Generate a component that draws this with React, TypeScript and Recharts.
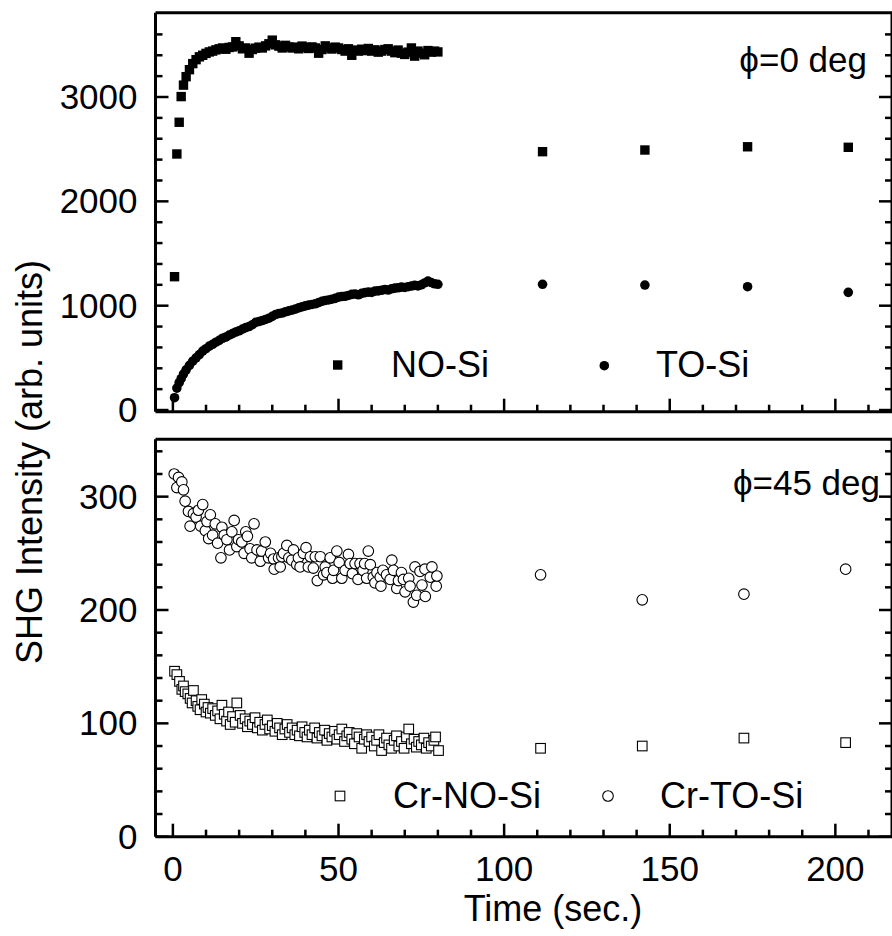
import React from 'react';
import { ScatterChart, Scatter, XAxis, YAxis, Customized } from 'recharts';

const FONT = '"Liberation Sans", Arial, Helvetica, sans-serif';

// ---- top panel (phi = 0 deg) ----
const tTop = [
  0.5, 1.2, 1.9, 2.5, 3.2, 4, 5, 6, 7, 8, 9, 10, 11, 12, 13, 14, 15, 16, 17, 18, 19, 20,
  21, 22, 23, 24, 25, 26, 27, 28, 29, 30, 31, 32, 33, 34, 35, 36, 37, 38, 39, 40, 41, 42,
  43, 44, 45, 46, 47, 48, 49, 50, 51, 52, 53, 54, 55, 56, 57, 58, 59, 60, 61, 62, 63, 64,
  65, 66, 67, 68, 69, 70, 71, 72, 73, 74, 75, 76, 77, 78, 79, 80,
];
const noSi = [
  1278, 2454, 2758, 3004, 3114, 3195, 3262, 3320, 3358, 3385, 3400, 3418, 3432, 3440,
  3452, 3462, 3470, 3458, 3475, 3480, 3530, 3490, 3462, 3470, 3420, 3455, 3468, 3478,
  3470, 3490, 3510, 3545, 3500, 3488, 3470, 3495, 3480, 3470, 3478, 3462, 3488, 3475,
  3465, 3480, 3470, 3420, 3455, 3490, 3470, 3460, 3478, 3470, 3455, 3440, 3462, 3400,
  3450, 3440, 3458, 3445, 3465, 3440, 3452, 3430, 3440, 3455, 3462, 3440, 3425, 3450,
  3420, 3408, 3430, 3470, 3392, 3440, 3420, 3405, 3445, 3430, 3440, 3432,
];
const toSi = [
  118, 210, 262, 300, 345, 385, 428, 468, 500, 532, 565, 588, 612, 630, 650, 668, 688,
  700, 718, 732, 748, 760, 775, 790, 800, 818, 840, 848, 858, 868, 880, 898, 915, 925,
  930, 942, 950, 958, 968, 980, 990, 998, 1005, 1012, 1018, 1030, 1042, 1050, 1055, 1062,
  1070, 1082, 1088, 1090, 1098, 1108, 1112, 1105, 1118, 1125, 1130, 1128, 1140, 1142,
  1148, 1155, 1150, 1162, 1168, 1172, 1178, 1175, 1182, 1188, 1195, 1190, 1200, 1218,
  1235, 1222, 1210, 1205,
];
const tLateTop = [111.6, 142.5, 173.5, 203.9];
const noSiLate = [2476, 2492, 2523, 2518];
const toSiLate = [1205, 1198, 1182, 1128];

// ---- bottom panel (phi = 45 deg) ----
const tCrTo = [
  0.4, 1.2, 1.7, 2.7, 3.2, 3.7, 4.7, 5.2, 6.2, 7, 7.7, 8.4, 9, 9.8, 10.3, 10.8, 11.3, 12,
  12.8, 13.5, 14.5, 14.8, 15.5, 16.3, 17.1, 17.8, 18.5, 19.3, 19.8, 20.8, 21.5, 22, 22.5,
  23.3, 23.8, 24.5, 25.4, 26.4, 26.8, 27.9, 28.9, 29.5, 30.4, 30.6, 31.9, 32.4, 32.9, 33.4,
  34.4, 35, 35.9, 36.4, 37.4, 37.9, 38.4, 39.4, 40.2, 40.9, 41.5, 42.4, 43, 43.6, 44.5,
  45.5, 46, 46.5, 47.5, 48.2, 48.5, 49.5, 50.2, 51, 52, 53, 53.5, 54.2, 55, 55.9, 56.5,
  57.4, 57.9, 58.5, 59, 59.6, 60.5, 61, 61.6, 62.6, 62.8, 63.4, 64.5, 65.6, 66.1, 66.6,
  67.6, 68.1, 69, 69.6, 70.1, 71.2, 71.6, 72.6, 73.1, 73.6, 74.6, 75.2, 76.1, 76.2, 77.7,
  78.2, 79.5, 79.7,
];
const crToSi = [
  320, 308, 317, 313, 306, 296, 287, 274, 285, 282, 288, 274, 293, 270, 278, 263, 284, 266,
  276, 259, 246, 273, 266, 262, 253, 269, 279, 256, 262, 260, 250, 269, 265, 254, 246, 276,
  253, 243, 252, 260, 246, 250, 245, 236, 246, 238, 247, 250, 257, 246, 244, 253, 240, 246,
  238, 250, 255, 238, 247, 237, 247, 226, 247, 231, 238, 233, 246, 228, 235, 252, 242, 228,
  235, 249, 241, 232, 241, 227, 241, 235, 241, 228, 252, 240, 229, 224, 233, 229, 221, 235,
  231, 227, 244, 235, 219, 226, 233, 227, 216, 228, 221, 207, 238, 213, 234, 222, 236, 212,
  229, 238, 221, 230,
];
const tCrNo = [
  0.5, 1.2, 2, 2.7, 3.2, 3.7, 4.5, 5.2, 5.8, 6.2, 7, 7.5, 8.2, 8.7, 9.5, 10, 10.6, 11.3,
  12, 12.8, 13.5, 14.2, 14.8, 15.5, 16.2, 16.8, 17.3, 18, 18.8, 19.3, 20.3, 21, 21.8, 22.5,
  23.2, 24, 24.8, 25.5, 26.2, 27, 27.8, 28.5, 29.2, 30, 30.8, 31.5, 32.2, 33, 33.8, 34.5,
  35.2, 36, 36.8, 37.5, 38.2, 39, 39.8, 40.5, 41.2, 42, 42.8, 43.5, 44.2, 45, 45.8, 46.5,
  47.2, 48, 48.8, 49.5, 50.2, 51, 51.8, 52.5, 53.2, 54, 54.8, 55.5, 56.2, 57, 57.8, 58.5,
  59.2, 60, 60.8, 61.5, 62.2, 63, 63.8, 64.5, 65.2, 66, 66.8, 67.5, 68.2, 69, 69.8, 70.5,
  71.2, 72, 72.8, 73.5, 74.2, 75, 75.8, 76.5, 77.2, 78, 78.8, 79.3, 80.2,
];
const crNoSi = [
  146, 143, 137, 130, 133, 128, 126, 122, 118, 129, 120, 115, 112, 121, 117, 110, 114, 109,
  113, 107, 111, 104, 116, 108, 102, 110, 99, 106, 101, 118, 107, 100, 104, 97, 102, 99,
  105, 96, 101, 94, 99, 103, 95, 98, 93, 100, 96, 90, 95, 99, 92, 96, 90, 94, 89, 97, 92,
  88, 94, 90, 96, 87, 92, 89, 94, 85, 91, 88, 93, 86, 90, 95, 84, 89, 92, 86, 82, 91, 88,
  78, 86, 90, 84, 88, 80, 85, 90, 76, 83, 87, 81, 78, 85, 89, 80, 84, 78, 88, 95, 82, 86,
  79, 84, 81, 87, 78, 83, 80, 85, 88, 76,
];
const tLateBot = [111, 141.7, 172.4, 203.1];
const crToSiLate = [231, 209, 214, 236];
const crNoSiLate = [78, 80, 87, 83];

const xTicks = [0, 10, 20, 30, 40, 50, 60, 70, 80, 90, 100, 110, 120, 130, 140, 150, 160, 170, 180, 190, 200, 210];
const yTicksTop = [0, 200, 400, 600, 800, 1000, 1200, 1400, 1600, 1800, 2000, 2200, 2400, 2600, 2800, 3000, 3200, 3400, 3600];
const yTicksBot = [0, 20, 40, 60, 80, 100, 120, 140, 160, 180, 200, 220, 240, 260, 280, 300, 320, 340];

const pts = (t: number[], v: number[]) => t.map((x, i) => ({ x, y: v[i] }));

const W = 892;
const H = 936;
const X_DOMAIN: [number, number] = [-5.25, 217.1];

const makeXTick = (side: 'top' | 'bottom', labels: boolean) => (props: any) => {
  const { x, y, payload } = props;
  const major = payload.value % 50 === 0;
  const len = major ? 13 : 7;
  const dir = side === 'bottom' ? -1 : 1;
  return (
    <g>
      <line x1={x} y1={y} x2={x} y2={y + dir * len} stroke="#000" strokeWidth={2.5} />
      {labels && major && (
        <text x={x} y={y + 44} textAnchor="middle" fontSize={35} fontFamily={FONT} fill="#000">
          {payload.value}
        </text>
      )}
    </g>
  );
};

const makeYTick = (side: 'left' | 'right', majorStep: number, labels: boolean) => (props: any) => {
  const { x, y, payload } = props;
  const major = payload.value % majorStep === 0;
  const len = major ? 13 : 7;
  const dir = side === 'left' ? 1 : -1;
  return (
    <g>
      <line x1={x} y1={y} x2={x + dir * len} y2={y} stroke="#000" strokeWidth={2.5} />
      {labels && major && (
        <text x={x - 18} y={y + 12} textAnchor="end" fontSize={35} fontFamily={FONT} fill="#000">
          {payload.value}
        </text>
      )}
    </g>
  );
};

const filledSquare = (p: any) => (
  <rect x={p.cx - 4.7} y={p.cy - 4.7} width={9.4} height={9.4} fill="#000" />
);
const filledCircle = (p: any) => <circle cx={p.cx} cy={p.cy} r={4.8} fill="#000" />;
const openSquare = (p: any) => (
  <rect x={p.cx - 4.8} y={p.cy - 4.8} width={9.6} height={9.6} fill="#fff" stroke="#000" strokeWidth={1.1} />
);
const openCircle = (p: any) => (
  <circle cx={p.cx} cy={p.cy} r={5.3} fill="#fff" stroke="#000" strokeWidth={1.1} />
);

const txt = { fontFamily: FONT, fill: '#000' };

const TopDecor = () => (
  <g>
    <text x={867} y={72} textAnchor="end" fontSize={35} {...txt}>ϕ=0 deg</text>
    <rect x={333} y={360.3} width={9.4} height={9.4} fill="#000" />
    <text x={391} y={377} fontSize={36} {...txt}>NO-Si</text>
    <circle cx={604.3} cy={365.7} r={4.8} fill="#000" />
    <text x={656} y={377} fontSize={36} {...txt}>TO-Si</text>
    <text
      x={42}
      y={462}
      textAnchor="middle"
      fontSize={36}
      transform="rotate(-90 42 462)"
      {...txt}
    >
      SHG Intensity (arb. units)
    </text>
  </g>
);

const BottomDecor = () => (
  <g>
    <text x={880} y={495} textAnchor="end" fontSize={35} {...txt}>ϕ=45 deg</text>
    <rect x={335.2} y={791.2} width={9.6} height={9.6} fill="#fff" stroke="#000" strokeWidth={1.1} />
    <text x={393} y={808} fontSize={36} {...txt}>Cr-NO-Si</text>
    <circle cx={608} cy={796} r={5.3} fill="#fff" stroke="#000" strokeWidth={1.1} />
    <text x={660} y={808} fontSize={36} {...txt}>Cr-TO-Si</text>
    <text x={553} y={921} textAnchor="middle" fontSize={36} {...txt}>Time (sec.)</text>
  </g>
);

const axisLine = { stroke: '#000', strokeWidth: 3 };

function Panel({ top, bottom, yDomain, yTicks, majorStep, xLabels, children }: any) {
  // plot box: x from 155.5 to 892, y from `top` to `bottom`
  return (
    <div style={{ position: 'absolute', left: 0, top: 0 }}>
      <ScatterChart width={W} height={H} margin={{ top: top - 1, right: -1, bottom: H - bottom - 1, left: 0 }}>
        <XAxis xAxisId="b" dataKey="x" type="number" domain={X_DOMAIN} allowDataOverflow ticks={xTicks}
          interval={0} height={1} tickSize={0} tickMargin={0} tickLine={false} axisLine={axisLine}
          tick={makeXTick('bottom', xLabels)} />
        <XAxis xAxisId="t" orientation="top" type="number" domain={X_DOMAIN} allowDataOverflow ticks={xTicks}
          interval={0} height={1} tickSize={0} tickMargin={0} tickLine={false} axisLine={axisLine}
          tick={makeXTick('top', false)} />
        <YAxis yAxisId="l" dataKey="y" type="number" domain={yDomain} allowDataOverflow ticks={yTicks}
          interval={0} width={155.5} tickSize={0} tickMargin={0} tickLine={false} axisLine={axisLine}
          tick={makeYTick('left', majorStep, true)} />
        <YAxis yAxisId="r" orientation="right" type="number" domain={yDomain} allowDataOverflow ticks={yTicks}
          interval={0} width={1} tickSize={0} tickMargin={0} tickLine={false} axisLine={axisLine}
          tick={makeYTick('right', majorStep, false)} />
        {children}
      </ScatterChart>
    </div>
  );
}

export default function App() {
  const topNo = pts(tTop.concat(tLateTop), noSi.concat(noSiLate));
  const topTo = pts(tTop.concat(tLateTop), toSi.concat(toSiLate));
  const botNo = pts(tCrNo.concat(tLateBot), crNoSi.concat(crNoSiLate));
  const botTo = pts(tCrTo.concat(tLateBot), crToSi.concat(crToSiLate));

  return (
    <div style={{ position: 'absolute', left: 0, top: 0, width: W, height: H, background: '#fff' }}>
      <Panel top={12.7} bottom={411.7} yDomain={[-16, 3808]} yTicks={yTicksTop} majorStep={1000} xLabels={false}>
        <Scatter name="NO-Si" data={topNo} xAxisId="b" yAxisId="l" shape={filledSquare} isAnimationActive={false} />
        <Scatter name="TO-Si" data={topTo} xAxisId="b" yAxisId="l" shape={filledCircle} isAnimationActive={false} />
        <Customized component={TopDecor} />
      </Panel>
      <Panel top={439.3} bottom={836.7} yDomain={[0, 350.6]} yTicks={yTicksBot} majorStep={100} xLabels={true}>
        <Scatter name="Cr-NO-Si" data={botNo} xAxisId="b" yAxisId="l" shape={openSquare} isAnimationActive={false} />
        <Scatter name="Cr-TO-Si" data={botTo} xAxisId="b" yAxisId="l" shape={openCircle} isAnimationActive={false} />
        <Customized component={BottomDecor} />
      </Panel>
    </div>
  );
}
